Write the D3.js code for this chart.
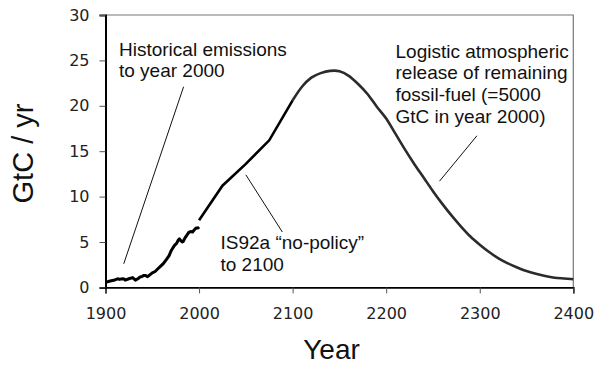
<!DOCTYPE html>
<html>
<head>
<meta charset="utf-8">
<script src="https://cdn.jsdelivr.net/npm/d3@7/dist/d3.min.js"></script>
<style>
    body { margin: 0; background: #fff; }
    svg { display: block; }
    .note { font-family: "Liberation Sans", Arial, sans-serif; font-size: 19px; fill: #111; }
    .axis text { font-family: "DejaVu Sans", Verdana, sans-serif; font-size: 16px; fill: #222; }
</style>
</head>
<body>
<svg id="chart" width="599" height="365"></svg>
<script>
"use strict";

//  Data  ---
var histYears = [1900, 1905, 1910, 1913, 1915, 1918, 1920, 1921, 1925, 1929, 1932, 1935, 1937, 1939, 1941, 1943, 1945, 1947, 1950, 1953, 1956, 1959, 1962, 1965, 1968, 1970, 1972, 1974, 1976, 1978, 1979, 1980, 1982, 1983, 1985, 1987, 1989, 1991, 1993, 1995, 1997, 1999, 2000];
var histValues = [0.55, 0.70, 0.82, 0.95, 0.88, 0.95, 0.93, 0.80, 0.95, 1.08, 0.80, 0.98, 1.15, 1.20, 1.32, 1.30, 1.18, 1.35, 1.60, 1.75, 2.05, 2.35, 2.65, 3.05, 3.50, 4.00, 4.35, 4.65, 4.85, 5.25, 5.35, 5.20, 5.00, 5.05, 5.45, 5.75, 6.05, 6.15, 6.10, 6.35, 6.55, 6.55, 6.65];

var is92aYears = [2000, 2025, 2050, 2075, 2100];
var is92aValues = [7.4, 11.2, 13.6, 16.2, 20.6];

var logisticYears = [2100, 2110, 2120, 2130, 2140, 2145, 2150, 2160, 2170, 2180, 2190, 2200, 2210, 2220, 2230, 2240, 2250, 2260, 2270, 2280, 2290, 2300, 2310, 2320, 2330, 2340, 2350, 2360, 2370, 2380, 2390, 2400];
var logisticValues = [20.6, 22.1, 23.1, 23.6, 23.85, 23.87, 23.8, 23.3, 22.4, 21.3, 19.9, 18.6, 16.9, 15.2, 13.6, 12.1, 10.6, 9.2, 7.9, 6.7, 5.6, 4.7, 3.9, 3.2, 2.65, 2.2, 1.8, 1.5, 1.25, 1.07, 0.98, 0.9];

var xTicks = [1900, 2000, 2100, 2200, 2300, 2400];
var yTicks = [0, 5, 10, 15, 20, 25, 30];

function zip(xs, ys) {
    return xs.map(function (x, i) { return [x, ys[i]]; });
}

//  Scales  ---
var svg = d3.select("#chart");
var x = d3.scaleLinear().domain([1900, 2400]).range([105.5, 573.3]);
var y = d3.scaleLinear().domain([0, 30]).range([287.4, 15]);

//  Frame (top / right)  ---
svg.append("path")
    .attr("d", "M" + x(1900) + "," + y(30) + "H" + x(2400) + "V" + y(0))
    .attr("fill", "none")
    .attr("stroke", "#777")
    .attr("stroke-width", 1.2)
;

//  Axes  ---
var xAxis = svg.append("g")
    .attr("class", "axis")
    .attr("transform", "translate(0," + y(0) + ")")
    .call(d3.axisBottom(x).tickValues(xTicks).tickFormat(d3.format("d")).tickSizeOuter(0).tickSize(6).tickPadding(14))
;
xAxis.select(".domain").attr("stroke", "#000").attr("stroke-width", 1.6);
xAxis.selectAll(".tick line").attr("stroke", "#555");

var yAxis = svg.append("g")
    .attr("class", "axis")
    .attr("transform", "translate(" + x(1900) + ",0)")
    .call(d3.axisLeft(y).tickValues(yTicks).tickSizeOuter(0).tickSize(6).tickPadding(10))
;
yAxis.select(".domain").attr("stroke", "#000").attr("stroke-width", 2);
yAxis.selectAll(".tick line").attr("stroke", "#555");
svg.selectAll(".axis text").attr("fill", "#222");

//  Series  ---
var line = d3.line()
    .x(function (d) { return x(d[0]); })
    .y(function (d) { return y(d[1]); })
;

svg.append("path")
    .datum(zip(logisticYears, logisticValues))
    .attr("d", line.curve(d3.curveMonotoneX))
    .attr("fill", "none")
    .attr("stroke", "#2b2b2b")
    .attr("stroke-width", 2.6)
;

svg.append("path")
    .datum(zip(is92aYears, is92aValues))
    .attr("d", line.curve(d3.curveLinear))
    .attr("fill", "none")
    .attr("stroke", "#000")
    .attr("stroke-width", 2.6)
;

svg.append("path")
    .datum(zip(histYears, histValues))
    .attr("d", line.curve(d3.curveLinear))
    .attr("fill", "none")
    .attr("stroke", "#000")
    .attr("stroke-width", 3)
    .attr("stroke-linejoin", "round")
;

//  Annotations  ---
var notes = [
    { lines: ["Historical emissions", "to year 2000"], x: 119, y: 55.5, from: [1983.5, 22.1], to: [1919.5, 2.6] },
    { lines: ["IS92a \u201cno-policy\u201d", "to 2100"], x: 220.5, y: 249, from: [2050, 12.4], to: [2089, 6.1] },
    { lines: ["Logistic atmospheric", "release of remaining", "fossil-fuel (=5000", "GtC in year 2000)"], x: 395.5, y: 57.5, from: [2297, 16.7], to: [2257, 11.7] }
];

notes.forEach(function (n) {
    svg.append("line")
        .attr("x1", x(n.from[0])).attr("y1", y(n.from[1]))
        .attr("x2", x(n.to[0])).attr("y2", y(n.to[1]))
        .attr("stroke", "#111")
        .attr("stroke-width", 1)
    ;
    var t = svg.append("text")
        .attr("class", "note")
        .attr("x", n.x)
        .attr("y", n.y)
    ;
    t.selectAll("tspan").data(n.lines).enter().append("tspan")
        .attr("x", n.x)
        .attr("dy", function (d, i) { return i === 0 ? 0 : 21.7; })
        .text(function (d) { return d; })
    ;
});

//  Axis titles  ---
svg.append("text")
    .attr("transform", "translate(32.5,153.5)rotate(-90)")
    .attr("text-anchor", "middle")
    .style("font-family", "\"Liberation Sans\", Arial, sans-serif")
    .style("font-size", "29px")
    .style("fill", "#111")
    .text("GtC / yr")
;

svg.append("text")
    .attr("x", 331.5)
    .attr("y", 358.5)
    .attr("text-anchor", "middle")
    .style("font-family", "\"Liberation Sans\", Arial, sans-serif")
    .style("font-size", "28px")
    .style("fill", "#111")
    .text("Year")
;
</script>
</body>
</html>
